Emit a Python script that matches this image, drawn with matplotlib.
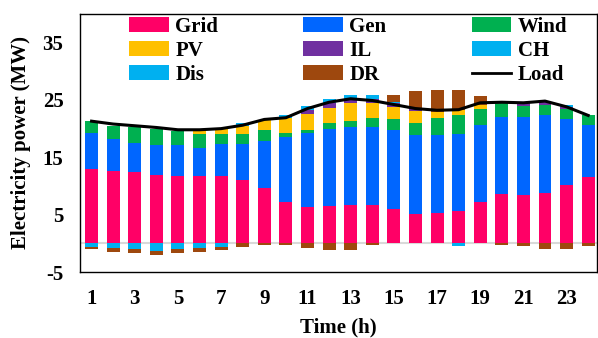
import numpy as np
import matplotlib.pyplot as plt
from matplotlib.patches import Patch
from matplotlib.lines import Line2D

hours = np.arange(1, 25)
grid = [12.9, 12.6, 12.5, 12.0, 11.8, 11.8, 11.8, 11.1, 9.7, 7.2, 6.3, 6.5,
        6.7, 6.7, 6.0, 5.1, 5.3, 5.6, 7.2, 8.6, 8.4, 8.7, 10.2, 11.5]
gen = [6.4, 5.6, 5.0, 5.1, 5.3, 4.8, 5.5, 6.2, 8.2, 11.3, 13.0, 13.5,
       13.6, 13.6, 13.8, 13.8, 13.6, 13.4, 13.5, 13.4, 13.6, 13.6, 11.4, 9.1]
wind = [2.0, 2.3, 2.7, 2.8, 2.5, 2.5, 1.8, 1.7, 1.8, 0.8, 0.4, 0.9,
        1.0, 1.6, 1.8, 2.0, 3.0, 3.3, 2.8, 2.5, 1.9, 1.8, 1.8, 1.7]
pv = [0, 0, 0, 0, 0, 0.6, 0.9, 1.5, 1.8, 2.6, 2.8, 2.7,
      3.1, 2.5, 2.2, 2.1, 1.0, 0.9, 0.7, 0, 0, 0, 0, 0]
il = [0, 0, 0, 0, 0, 0, 0, 0, 0, 0, 0.7, 0.8,
      0.7, 0.8, 0.6, 0.5, 0, 0, 0, 0, 0.6, 0.5, 0.4, 0]
dis = [0, 0, 0, 0, 0, 0, 0, 0.4, 0, 0.4, 0.7, 0.8,
       0.8, 0.6, 0.3, 0, 0, 0, 0, 0, 0, 0, 0.3, 0]
ch = [-0.6, -0.75, -1.05, -1.3, -1.05, -0.8, -0.6, 0, 0, 0, 0, 0,
      0, 0, 0, 0, 0, -0.4, 0, 0, 0, 0, 0, 0]
dr = [-0.45, -0.8, -0.7, -0.7, -0.7, -0.75, -0.5, -0.7, -0.3, -0.3, -0.8, -1.1,
      -1.1, -0.35, 1.1, 3.0, 3.8, 3.5, 1.5, -0.3, -0.5, -1.0, -1.0, -0.5]
load = [21.3, 20.8, 20.5, 20.2, 19.8, 19.8, 20.0, 20.6, 21.6, 21.9, 23.5, 24.6,
        25.2, 24.9, 24.2, 23.5, 23.2, 23.3, 24.5, 24.6, 24.5, 24.8, 23.8, 22.3]

colors = {
    'Grid': '#FF0066', 'Gen': '#0066FF', 'Wind': '#00B050', 'PV': '#FFC000',
    'IL': '#7030A0', 'CH': '#00B0F0', 'Dis': '#00B0F0', 'DR': '#9E480E',
}

plt.rcParams['font.family'] = 'Liberation Serif'
plt.rcParams['font.weight'] = 'bold'
plt.rcParams['axes.unicode_minus'] = False

fig = plt.figure(figsize=(5.98, 3.38), dpi=100)
ax = fig.add_axes([0.134, 0.195, 0.864, 0.764])

w = 0.6
dr_arr = np.array(dr)
dr_pos = np.maximum(dr_arr, 0)
dr_neg = np.minimum(dr_arr, 0)

ax.axhline(0, color='#D9D9D9', lw=1.5, zorder=1)

# positive stack
bottom = np.zeros(24)
for name, vals in [('Grid', grid), ('Gen', gen), ('Wind', wind), ('PV', pv),
                   ('IL', il), ('Dis', dis), ('DR', dr_pos)]:
    vals = np.array(vals)
    ax.bar(hours, vals, w, bottom=bottom, color=colors[name], zorder=2)
    bottom = bottom + vals

# negative stack
nbottom = np.zeros(24)
for name, vals in [('CH', ch), ('DR', dr_neg)]:
    vals = np.array(vals)
    ax.bar(hours, vals, w, bottom=nbottom, color=colors[name], zorder=2)
    nbottom = nbottom + vals

ax.plot(hours, load, color='black', lw=2.2, zorder=3)

ax.set_xlim(0.47, 24.4)
ax.set_ylim(-5, 40)
ax.set_yticks([-5, 5, 15, 25, 35])
ax.set_xticks(np.arange(1, 24, 2))
ax.tick_params(axis='both', length=0, labelsize=15)
ax.tick_params(axis='x', pad=12)
ax.tick_params(axis='y', pad=12)
ax.set_xlabel('Time (h)', fontsize=15, fontweight='bold', labelpad=6)
ax.set_ylabel('Electricity power (MW)', fontsize=15, fontweight='bold', labelpad=8)
for s in ax.spines.values():
    s.set_linewidth(1.0)

order = ['Grid', 'PV', 'Dis', 'Gen', 'IL', 'DR', 'Wind', 'CH', 'Load']
handles = []
for name in order:
    if name == 'Load':
        handles.append(Line2D([], [], color='black', lw=2))
    else:
        handles.append(Patch(facecolor=colors[name]))
leg = ax.legend(handles, order, ncol=3, loc='upper left', bbox_to_anchor=(0.075, 1.03),
                frameon=False, fontsize=15, handlelength=1.9, handletextpad=0.3,
                labelspacing=0.2, columnspacing=4.1, borderaxespad=0.1)

fig.savefig('out.png', dpi=100)
